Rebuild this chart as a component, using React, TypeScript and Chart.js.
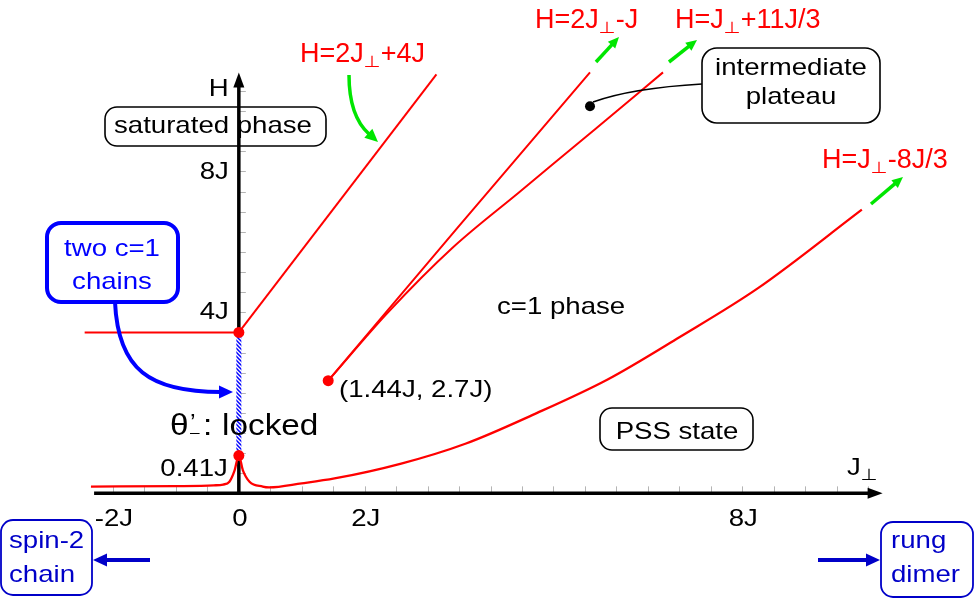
import React, { useEffect, useRef } from 'react';
import { Chart, registerables } from 'chart.js';

Chart.register(...registerables);

// ---------------- data (units of J) ----------------
const xMinorTicks = [-2, -1.5, -1, -0.5, 0.5, 1, 1.5, 2, 2.5, 3, 3.5, 4, 4.5, 5, 5.5, 6, 6.5, 7, 7.5, 8, 8.5, 9, 9.5, 10];
const yMinorTicks = [0.5, 1, 1.5, 2, 2.5, 3, 3.5, 4.5, 5, 5.5, 6, 6.5, 7, 7.5, 8, 8.5, 9, 9.5, 10];
const xLabelValues = [-2, 0, 2, 8];
const xLabelTexts = ['-2J', '0', '2J', '8J'];
const yLabelValues = [4, 8];
const yLabelTexts = ['4J', '8J'];

const plateauX = [-2.45, 0];
const plateauY = [4, 4];
const saturationX = [0, 3.14];
const saturationY = [4, 10.41];
const upperBranchX = [1.42, 3.47, 5.58];
const upperBranchY = [2.8, 6.59, 10.46];
const lowerBranchX = [1.42, 2.36, 3.4, 4.46, 5.67, 6.74];
const lowerBranchY = [2.8, 4.48, 6.11, 7.49, 9.06, 10.46];
const pssX = [-2.35, -1.0, -0.4, -0.25, -0.15, -0.07, 0, 0.063, 0.17, 0.38, 0.48, 1.0, 1.52, 2.58, 3.61, 4.67, 5.86, 7.0, 8.25, 9.9];
const pssY = [0.17, 0.18, 0.2, 0.22, 0.29, 0.56, 0.94, 0.58, 0.29, 0.17, 0.15, 0.25, 0.37, 0.74, 1.24, 1.95, 2.83, 3.88, 5.1, 7.05];
const lockedX = [0, 0];
const lockedY = [0.94, 4];
const criticalX = [0, 0, 1.42];
const criticalY = [4, 0.94, 2.8];
const plateauDotX = [5.58];
const plateauDotY = [9.62];

const axisXStart = -2.3;
const axisXEnd = 10.23;
const axisYEnd = 10.46;

// ---------------- style ----------------
const FONT = '"Liberation Sans", Arial, Helvetica, sans-serif';
const SX = 1.15;
const RED = '#ff0000';
const GREEN = '#00e600';
const BLUE = '#0000ff';
const DBLUE = '#0000c8';

const pts = (xs: number[], ys: number[]) => xs.map((x, i) => ({ x, y: ys[i] }));

function txt(ctx: CanvasRenderingContext2D, s: string, x: number, y: number, size: number, color: string, align: CanvasTextAlign = 'left', sx = SX) {
  ctx.save();
  ctx.font = `${size}px ${FONT}`;
  ctx.fillStyle = color;
  ctx.textAlign = align;
  ctx.textBaseline = 'alphabetic';
  ctx.translate(x, y);
  ctx.scale(sx, 1);
  ctx.fillText(s, 0, 0);
  ctx.restore();
}

function perpText(ctx: CanvasRenderingContext2D, before: string, after: string, x: number, y: number, size: number, color: string, sx: number) {
  ctx.save();
  ctx.fillStyle = color;
  ctx.textAlign = 'left';
  ctx.textBaseline = 'alphabetic';
  ctx.translate(x, y);
  ctx.scale(sx, 1);
  ctx.font = `${size}px ${FONT}`;
  let cx = 0;
  ctx.fillText(before, cx, 0);
  cx += ctx.measureText(before).width;
  ctx.font = `16px "DejaVu Sans", ${FONT}`;
  const pw = ctx.measureText('\u22A5').width;
  const ex = 17 / sx / pw;
  ctx.save();
  ctx.translate(cx, 5);
  ctx.scale(ex, 1);
  ctx.fillText('\u22A5', 0, 0);
  ctx.restore();
  cx += pw * ex;
  ctx.font = `${size}px ${FONT}`;
  if (after) ctx.fillText(after, cx, 0);
  ctx.restore();
}

function head(ctx: CanvasRenderingContext2D, tx: number, ty: number, ang: number, len: number, half: number, color: string) {
  const bx = tx - len * Math.cos(ang);
  const by = ty - len * Math.sin(ang);
  ctx.save();
  ctx.fillStyle = color;
  ctx.beginPath();
  ctx.moveTo(tx, ty);
  ctx.lineTo(bx + half * Math.sin(ang), by - half * Math.cos(ang));
  ctx.lineTo(bx - half * Math.sin(ang), by + half * Math.cos(ang));
  ctx.closePath();
  ctx.fill();
  ctx.restore();
}

function straightArrow(ctx: CanvasRenderingContext2D, x0: number, y0: number, x1: number, y1: number, color: string, lw: number, len: number, half: number) {
  const ang = Math.atan2(y1 - y0, x1 - x0);
  ctx.save();
  ctx.strokeStyle = color;
  ctx.lineWidth = lw;
  ctx.beginPath();
  ctx.moveTo(x0, y0);
  ctx.lineTo(x1 - (len - 1) * Math.cos(ang), y1 - (len - 1) * Math.sin(ang));
  ctx.stroke();
  ctx.restore();
  head(ctx, x1, y1, ang, len, half, color);
}

function box(ctx: CanvasRenderingContext2D, x: number, y: number, w: number, h: number, r: number, color: string, lw: number) {
  ctx.save();
  ctx.strokeStyle = color;
  ctx.lineWidth = lw;
  ctx.beginPath();
  (ctx as any).roundRect(x, y, w, h, r);
  ctx.stroke();
  ctx.restore();
}

const diagramPlugin = {
  id: 'diagram',
  beforeDatasetsDraw(chart: any) {
    const ctx: CanvasRenderingContext2D = chart.ctx;
    const xs = chart.scales.x;
    const ys = chart.scales.y;
    const x0 = xs.getPixelForValue(0);
    const y0 = ys.getPixelForValue(0);
    // ticks
    ctx.save();
    ctx.strokeStyle = '#b4b4b4';
    ctx.lineWidth = 1;
    ctx.beginPath();
    xMinorTicks.forEach((v) => {
      const p = Math.round(xs.getPixelForValue(v)) + 0.5;
      ctx.moveTo(p, y0 - 7);
      ctx.lineTo(p, y0);
    });
    yMinorTicks.forEach((v) => {
      const p = Math.round(ys.getPixelForValue(v)) + 0.5;
      ctx.moveTo(x0, p);
      ctx.lineTo(x0 + 7, p);
    });
    ctx.stroke();
    // axes
    ctx.strokeStyle = '#000';
    ctx.lineWidth = 3.5;
    ctx.beginPath();
    const xe = xs.getPixelForValue(axisXEnd);
    ctx.moveTo(xs.getPixelForValue(axisXStart), y0);
    ctx.lineTo(xe - 12, y0);
    ctx.moveTo(x0, y0 + 1.75);
    ctx.lineTo(x0, ys.getPixelForValue(lockedY[0]));
    const ye = ys.getPixelForValue(axisYEnd);
    ctx.moveTo(x0, ys.getPixelForValue(lockedY[1]));
    ctx.lineTo(x0, ye + 12);
    ctx.stroke();
    ctx.restore();
    head(ctx, xe, y0, 0, 15, 5.5, '#000');
    head(ctx, x0, ye, -Math.PI / 2, 15, 5.5, '#000');

    // tick labels
    xLabelValues.forEach((v, i) => txt(ctx, xLabelTexts[i], xs.getPixelForValue(v) + 1, y0 + 33, 24, '#000', 'center'));
    yLabelValues.forEach((v, i) => {
      const p = ys.getPixelForValue(v);
      txt(ctx, yLabelTexts[i], x0 - 10, v === 4 ? p - 13 : p + 8, 24, '#000', 'right');
    });
    txt(ctx, '0.41J', x0 - 11, ys.getPixelForValue(lockedY[0]) + 20, 24, '#000', 'right');
    txt(ctx, 'H', x0 - 30, ye + 24, 24, '#000', 'left');
    perpText(ctx, 'J', '', 847, y0 - 18, 24, '#000', SX);

    // saturated phase box (axis passes through it)
    box(ctx, 105, 107, 221, 39, 12, '#000', 1.6);
    txt(ctx, 'saturated phase', 114, 133, 24, '#000');
  },
  afterDatasetsDraw(chart: any) {
    const ctx: CanvasRenderingContext2D = chart.ctx;
    // red formula labels
    perpText(ctx, 'H=2J', '+4J', 300, 62, 27, RED, 1);
    perpText(ctx, 'H=2J', '-J', 535, 28, 27, RED, 1);
    perpText(ctx, 'H=J', '+11J/3', 675, 28, 27, RED, 1);
    perpText(ctx, 'H=J', '-8J/3', 822, 168, 27, RED, 1);

    // green arrows
    straightArrow(ctx, 596, 62, 619, 37, GREEN, 3.5, 11, 5);
    straightArrow(ctx, 669, 62, 697, 40, GREEN, 3.5, 11, 5);
    straightArrow(ctx, 871, 204, 903, 177, GREEN, 3.5, 11, 5);
    ctx.save();
    ctx.strokeStyle = GREEN;
    ctx.lineWidth = 3.5;
    ctx.beginPath();
    ctx.moveTo(349, 75);
    ctx.quadraticCurveTo(349, 116, 369, 134);
    ctx.stroke();
    ctx.restore();
    head(ctx, 378, 142, Math.atan2(18, 20), 13, 6, GREEN);

    // blue box + arrow
    box(ctx, 47, 223, 131, 79, 14, BLUE, 4);
    txt(ctx, 'two c=1', 112, 256, 24, BLUE, 'center');
    txt(ctx, 'chains', 112, 289, 24, BLUE, 'center');
    ctx.save();
    ctx.strokeStyle = BLUE;
    ctx.lineWidth = 4;
    ctx.beginPath();
    ctx.moveTo(115, 302);
    ctx.bezierCurveTo(118, 370, 150, 392, 221, 392);
    ctx.stroke();
    ctx.restore();
    head(ctx, 233, 392, 0, 14, 6.5, BLUE);

    // intermediate plateau
    box(ctx, 702, 48, 178, 75, 15, '#000', 1.6);
    txt(ctx, 'intermediate', 791, 75, 24, '#000', 'center');
    txt(ctx, 'plateau', 791, 104, 24, '#000', 'center');
    ctx.save();
    ctx.strokeStyle = '#000';
    ctx.lineWidth = 1.6;
    ctx.beginPath();
    ctx.moveTo(593, 102);
    ctx.quadraticCurveTo(632, 88, 702, 84);
    ctx.stroke();
    ctx.restore();

    // phase labels
    txt(ctx, 'c=1 phase', 497, 314, 24, '#000');
    txt(ctx, '(1.44J, 2.7J)', 339, 397, 24, '#000');
    box(ctx, 600, 408, 153, 42, 12, '#000', 1.6);
    txt(ctx, 'PSS state', 677, 439, 24, '#000', 'center');

    // theta locked
    txt(ctx, '\u03B8', 170, 435, 29, '#000');
    txt(ctx, '\u2019', 190, 429, 22, '#000');
    txt(ctx, '\u2013', 190, 437, 15, '#000');
    txt(ctx, ':', 203, 435, 29, '#000');
    txt(ctx, 'locked', 222, 435, 29, '#000');

    // bottom limits
    box(ctx, 1, 520, 91, 75, 12, DBLUE, 1.8);
    txt(ctx, 'spin-2', 9, 548, 24, DBLUE);
    txt(ctx, 'chain', 9, 582, 24, DBLUE);
    straightArrow(ctx, 150, 560, 93, 560, DBLUE, 4, 14, 6.5);
    box(ctx, 881, 522, 92, 75, 12, DBLUE, 1.8);
    txt(ctx, 'rung', 891, 548, 24, DBLUE);
    txt(ctx, 'dimer', 891, 582, 24, DBLUE);
    straightArrow(ctx, 818, 560, 880, 560, DBLUE, 4, 14, 6.5);
  },
};

export default function App() {
  const ref = useRef<HTMLCanvasElement | null>(null);
  useEffect(() => {
    const canvas = ref.current!;
    const ctx = canvas.getContext('2d')!;
    const pc = document.createElement('canvas');
    pc.width = 4;
    pc.height = 4;
    const g = pc.getContext('2d')!;
    g.fillStyle = '#ffffff';
    g.fillRect(0, 0, 4, 4);
    g.strokeStyle = BLUE;
    g.lineWidth = 1.5;
    g.beginPath();
    g.moveTo(0, 0); g.lineTo(4, 4);
    g.moveTo(-1, 3); g.lineTo(1, 5);
    g.moveTo(3, -1); g.lineTo(5, 1);
    g.stroke();
    const hatch = ctx.createPattern(pc, 'repeat')!;

    const line = (xs: number[], ys: number[], extra: any = {}) => ({
      data: pts(xs, ys),
      showLine: true,
      borderColor: RED,
      borderWidth: 2,
      pointRadius: 0,
      tension: 0,
      order: 2,
      ...extra,
    });

    const chart = new Chart(canvas, {
      type: 'scatter',
      data: {
        datasets: [
          { data: pts(criticalX, criticalY), backgroundColor: RED, borderColor: RED, pointRadius: 5.5, pointBorderWidth: 0, order: 0 },
          { data: pts(plateauDotX, plateauDotY), backgroundColor: '#000', borderColor: '#000', pointRadius: 5, pointBorderWidth: 0, order: 0 },
          line(lockedX, lockedY, { borderColor: hatch, borderWidth: 5, order: 1 }),
          line(plateauX, plateauY),
          line(saturationX, saturationY),
          line(upperBranchX, upperBranchY),
          line(lowerBranchX, lowerBranchY, { cubicInterpolationMode: 'monotone' }),
          line(pssX, pssY, { cubicInterpolationMode: 'monotone', borderWidth: 2.3 }),
        ],
      },
      options: {
        animation: false,
        responsive: false,
        events: [],
        layout: { padding: 0 },
        plugins: { legend: { display: false }, tooltip: { enabled: false } },
        scales: {
          x: { type: 'linear', min: -236 / 63.65, max: (975 - 236) / 63.65, display: false },
          y: { type: 'linear', min: -(599 - 497) / 41, max: 497 / 41, display: false },
        },
      },
      plugins: [diagramPlugin],
    } as any);
    return () => chart.destroy();
  }, []);
  return (
    <div style={{ position: 'fixed', left: 0, top: 0, width: 975, height: 599, background: '#fff' }}>
      <canvas ref={ref} width={975} height={599} style={{ display: 'block' }} />
    </div>
  );
}
